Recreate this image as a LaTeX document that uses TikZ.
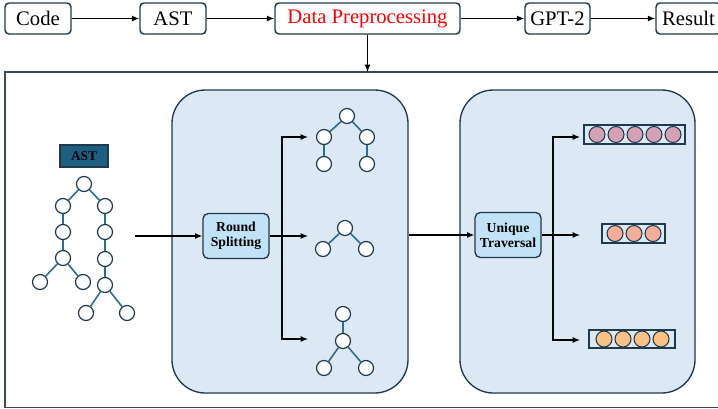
\documentclass[tikz,border=0pt]{standalone}
\usepackage{fontspec}
\setmainfont{Liberation Serif}
\usetikzlibrary{arrows.meta}
\definecolor{dk}{HTML}{1F3A4D}
\definecolor{framec}{HTML}{34495A}
\definecolor{bgb}{HTML}{DCE8F4}
\definecolor{nodeb}{HTML}{C2E3F5}
\definecolor{edgec}{HTML}{2D6E8E}
\definecolor{astlab}{HTML}{1D5F80}
\definecolor{pinkc}{HTML}{D7A1B5}
\definecolor{salmc}{HTML}{F4AD98}
\definecolor{orgc}{HTML}{FBC182}
\begin{document}
\begin{tikzpicture}[x=0.75pt,y=-0.75pt,
  topbox/.style={draw=dk, line width=1.1pt, rounded corners=3pt, fill=white, minimum height=23.25pt, inner sep=0pt, font=\fontsize{15.5}{18}\selectfont},
  arr/.style={-{Latex[length=5.5pt,width=4.5pt]}, line width=0.9pt},
  proc/.style={draw=dk, line width=1pt, fill=nodeb, rounded corners=4pt, minimum width=49.5pt, minimum height=33.75pt, inner sep=0pt, align=center, font=\bfseries\fontsize{10.3}{11.5}\selectfont},
  bigbox/.style={draw=dk, line width=1pt, fill=bgb, rounded corners=25pt, minimum height=227.25pt, inner sep=0pt},
  tn/.style={circle, draw=dk, line width=0.9pt, fill=white, minimum size=11.25pt, inner sep=0pt},
  te/.style={draw=edgec, line width=1.2pt},
  seqbox/.style={draw=dk, line width=1pt, fill=bgb, inner sep=0pt},
  dotc/.style={circle, draw=dk, line width=0.8pt, minimum size=12pt, inner sep=0pt}
]
\useasboundingbox (0,0) rectangle (718,408);
% outer frame
\draw[framec, line width=1.1pt] (730,72) -- (5,72) -- (5,407.5) -- (730,407.5);

% top row
\node[topbox, minimum width=49.5pt] (code) at (38,18.5) {Code};
\node[topbox, minimum width=49.5pt] (ast) at (173,18.5) {AST};
\node[topbox, minimum width=138.75pt, text=red] (dp) at (367.5,18.5) {Data Preprocessing};
\node[topbox, minimum width=48.75pt] (gpt) at (557.5,18.5) {GPT-2};
\node[topbox, minimum width=48.75pt] (res) at (688.5,18.5) {Result};
\draw[arr] (code) -- (ast);
\draw[arr] (ast) -- (dp);
\draw[arr] (dp) -- (gpt);
\draw[arr] (gpt) -- (res);
\coordinate (ft) at (367.5,72);
\draw[arr] (dp) -- (ft);

% big boxes
\node[bigbox, minimum width=177pt] (rbox) at (290,241.5) {};
\node[bigbox, minimum width=176.25pt] (ubox) at (577.5,241.5) {};

% AST tree
\node[draw=dk, line width=0.8pt, fill=astlab, minimum width=36pt, minimum height=16.5pt, inner sep=0pt, font=\bfseries\fontsize{10}{12}\selectfont] (astl) at (84,156) {AST};
\node[tn] (a0) at (84,184) {};
\node[tn] (a1) at (63,206) {};
\node[tn] (a2) at (63,232) {};
\node[tn] (a3) at (63,258) {};
\node[tn] (a4) at (40,282) {};
\node[tn] (a5) at (83,282) {};
\node[tn] (b1) at (105,206) {};
\node[tn] (b2) at (105,232) {};
\node[tn] (b3) at (105,259) {};
\node[tn] (b4) at (105,285) {};
\node[tn] (b5) at (86,313) {};
\node[tn] (b6) at (127,313) {};
\draw[te] (a0)--(a1) (a1)--(a2) (a2)--(a3) (a3)--(a4) (a3)--(a5)
  (a0)--(b1) (b1)--(b2) (b2)--(b3) (b3)--(b4) (b4)--(b5) (b4)--(b6);

% Round splitting
\node[proc] (rs) at (236,236) {Round\\Splitting};
\coordinate (astout) at (135,236);
\draw[arr] (astout) -- (rs);
\coordinate (rb) at (282,236);
\coordinate (r1) at (308,137);
\coordinate (r2) at (308,236);
\coordinate (r3) at (308,339);
\draw[arr] (rs) -- (r2);
\draw[arr] (rb) |- (r1);
\draw[arr] (rb) |- (r3);

% subtrees
\node[tn] (t0) at (347,116) {};
\node[tn] (t1) at (324,137) {};
\node[tn] (t2) at (367,137) {};
\node[tn] (t3) at (324,164) {};
\node[tn] (t4) at (367,164) {};
\draw[te] (t0)--(t1) (t0)--(t2) (t1)--(t3) (t2)--(t4);
\node[tn] (m0) at (345,228) {};
\node[tn] (m1) at (323,249) {};
\node[tn] (m2) at (366,249) {};
\draw[te] (m0)--(m1) (m0)--(m2);
\node[tn] (s0) at (343,314) {};
\node[tn] (s1) at (343,341) {};
\node[tn] (s2) at (324,368) {};
\node[tn] (s3) at (366,368) {};
\draw[te] (s0)--(s1) (s1)--(s2) (s1)--(s3);

% Unique traversal
\node[proc] (ut) at (508,235) {Unique\\Traversal};
\draw[arr] (rbox.east |- ut) -- (ut);
\coordinate (ub) at (553,235);
\coordinate (u1) at (580,137);
\coordinate (u2) at (580,235);
\coordinate (u3) at (580,340);
\draw[arr] (ut) -- (u2);
\draw[arr] (ub) |- (u1);
\draw[arr] (ub) |- (u3);

% sequences
\node[seqbox, minimum width=75.75pt, minimum height=14.25pt] (q1) at (634.5,134.5) {};
\foreach \i in {0,...,4} \node[dotc, fill=pinkc] (q1d\i) at (597+19*\i,134.5) {};
\node[seqbox, minimum width=47.25pt, minimum height=14.25pt] (q2) at (633.5,233.5) {};
\foreach \i in {0,...,2} \node[dotc, fill=salmc] (q2d\i) at (615+19*\i,233.5) {};
\node[seqbox, minimum width=64.5pt, minimum height=13.5pt] (q3) at (632,339) {};
\foreach \i in {0,...,3} \node[dotc, fill=orgc] (q3d\i) at (604+19*\i,339) {};
\end{tikzpicture}
\end{document}
